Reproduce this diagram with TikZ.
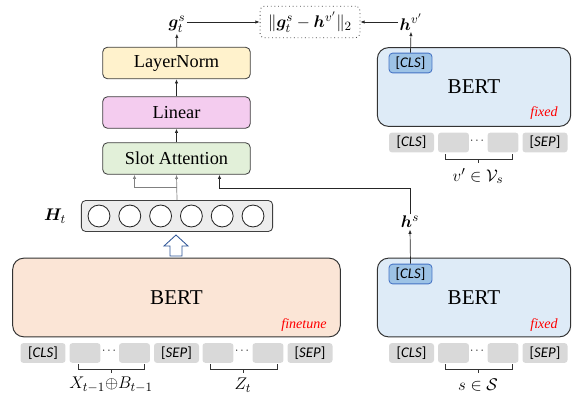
\documentclass[tikz,border=0pt]{standalone}
\usepackage{amsmath,amssymb,bm}
\usepackage{fontspec}
\setmainfont{Liberation Serif}
\newfontfamily\tokfont{Carlito}
\usetikzlibrary{arrows.meta,calc,positioning}
\definecolor{lnfill}{HTML}{FFF2CC}
\definecolor{linfill}{HTML}{F4CCEF}
\definecolor{safill}{HTML}{E2F0D9}
\definecolor{ftfill}{HTML}{FBE5D6}
\definecolor{fxfill}{HTML}{DEEBF7}
\definecolor{clsfill}{HTML}{9DC3E6}
\definecolor{clsdraw}{HTML}{4472C4}
\definecolor{tokgrey}{HTML}{D9D9D9}
\definecolor{rowgrey}{HTML}{EDEDED}
\definecolor{updraw}{HTML}{2F5597}
\tikzset{
  box/.style={draw=black!75,line width=0.6pt,rounded corners=3.5pt,minimum width=105pt,minimum height=22.5pt,font=\fontsize{13}{15}\selectfont},
  bert/.style={draw=black!80,line width=0.7pt,rounded corners=8pt,minimum height=56pt,font=\fontsize{15}{18}\selectfont},
  tok/.style={fill=tokgrey,rounded corners=2pt,minimum height=14pt,inner sep=0pt,font=\tokfont\fontsize{10.5}{12}\selectfont},
  wtok/.style={tok,minimum width=32pt},
  ntok/.style={tok,minimum width=22pt},
  clsbox/.style={fill=clsfill,draw=clsdraw,line width=0.6pt,rounded corners=2.5pt,minimum width=30.5pt,minimum height=14pt,inner sep=0pt,font=\tokfont\fontsize{10.5}{12}\selectfont},
  tag/.style={text=red,font=\itshape\fontsize{10}{12}\selectfont},
  lab/.style={font=\fontsize{13}{15}\selectfont,inner sep=1pt},
  arr/.style={-{Latex[length=3pt,width=2.4pt]},line width=0.5pt,draw=black!85},
  garr/.style={arr,draw=black!50},
}
\begin{document}
\begin{tikzpicture}[x=0.025cm,y=-0.025cm]
        \useasboundingbox (0,0) rectangle (573,401);
        %% Head
        \node[box,fill=safill] (slot) at (176.5,158.5) {Slot Attention};
        \node[box,fill=linfill] (lin) at (176.5,112.5) {Linear};
        \node[box,fill=lnfill] (ln) at (176.5,63) {LayerNorm};
        \node[lab] (g) at (177,24) {$\bm{g}_t^s$};
        \node[draw=black!70,dotted,line width=0.6pt,rounded corners=3pt,minimum width=71pt,minimum height=22.5pt,lab] (loss) at (310,22) {$\|\bm{g}_t^s-\bm{h}^{v'}\|_2$};
        \node[lab] (hv) at (411,22) {$\bm{h}^{v'}$};
        \draw[arr] (slot) -- (lin);
        \draw[arr] (lin) -- (ln);
        \draw[arr] (ln) -- (g);
        \draw[arr] (g.east |- loss.west) -- (loss.west);
        \draw[arr] (hv.west |- loss.east) -- (loss.east);
        %% Hidden states
        \node[draw=black!75,fill=rowgrey,line width=0.6pt,rounded corners=3pt,minimum width=136pt,minimum height=22pt] (hrow) at (177,216) {};
        \foreach \i in {0,...,5}
            \node[draw=black!85,fill=white,circle,line width=0.6pt,minimum size=15.6pt,inner sep=0pt] (c\i) at (99+\i*30.8,216) {};
        \node[lab] (Ht) at (55,216) {$\bm{H}_t$};
        \draw[garr] (hrow.north) -- (slot.south);
        \draw[garr] ($(hrow.north)+(0,-13)$) -| ($(slot.south)+(-42,0)$);
        %% Encoders
        \node[bert,fill=ftfill,minimum width=233pt] (bertL) at (176.5,297.5) {BERT};
        \node[tag] (ft) at (304,325) {finetune};
        \node[bert,fill=fxfill,minimum width=137.5pt] (bertS) at (474,297.5) {BERT};
        \node[tag] (fx1) at (544,325) {fixed};
        \node[clsbox] (clsS) at (410.5,274) {[\textit{CLS}]};
        \node[bert,fill=fxfill,minimum width=137.5pt] (bertV) at (474,87) {BERT};
        \node[tag] (fx2) at (544,113) {fixed};
        \node[clsbox] (clsV) at (410.5,63) {[\textit{CLS}]};
        \node[lab] (hs) at (410,222) {$\bm{h}^s$};
        \draw[arr] (clsV.north) -- (hv.south);
        \draw[arr] (clsS.north) -- (hs.south);
        \draw[arr] (hs.north) |- ($(slot.south)+(43,14)$) -- ($(slot.south)+(43,0)$);
        %% Up arrow
        \draw[draw=updraw,fill=white,line width=0.6pt,line join=miter] (170,256) -- (170,246) -- (164,246) -- (176,235) -- (188,246) -- (182,246) -- (182,256) -- cycle;
        %% Tokens
        \node[wtok] (l1) at (43,353) {[\textit{CLS}]};
        \node[ntok] (l2) at (85,353) {};
        \node[font=\footnotesize] (l3) at (110,351) {$\cdots$};
        \node[ntok] (l4) at (134.5,353) {};
        \node[wtok] (l5) at (176.5,353) {[\textit{SEP}]};
        \node[ntok] (l6) at (218,353) {};
        \node[font=\footnotesize] (l7) at (243,351) {$\cdots$};
        \node[ntok] (l8) at (268,353) {};
        \node[wtok] (l9) at (310,353) {[\textit{SEP}]};
        \node[wtok] (s1) at (411.5,353) {[\textit{CLS}]};
        \node[ntok] (s2) at (453.5,353) {};
        \node[font=\footnotesize] (s3) at (478,351) {$\cdots$};
        \node[ntok] (s4) at (503,353) {};
        \node[wtok] (s5) at (545,353) {[\textit{SEP}]};
        \node[wtok] (v1) at (411.5,142.5) {[\textit{CLS}]};
        \node[ntok] (v2) at (453.5,142.5) {};
        \node[font=\footnotesize] (v3) at (478,140.5) {$\cdots$};
        \node[ntok] (v4) at (503,142.5) {};
        \node[wtok] (v5) at (545,142.5) {[\textit{SEP}]};
        %% Brackets
        \foreach \a/\b/\y in {78/144/364,210/277/364,445/512/364,445/512/154}
            \draw[black!80,line width=0.6pt] (\a,\y) -- (\a,\y+5) -- (\b,\y+5) -- (\b,\y)
                ({(\a+\b)/2},\y+5) -- ({(\a+\b)/2},\y+9);
        \node[lab] (lx) at (111,385) {$X_{t-1}{\oplus}B_{t-1}$};
        \node[lab] (lz) at (243,385) {$Z_t$};
        \node[lab] (ls) at (478,385) {$s\in\mathcal{S}$};
        \node[lab] (lv) at (478,176) {$v'\in\mathcal{V}_s$};
\end{tikzpicture}
\end{document}
